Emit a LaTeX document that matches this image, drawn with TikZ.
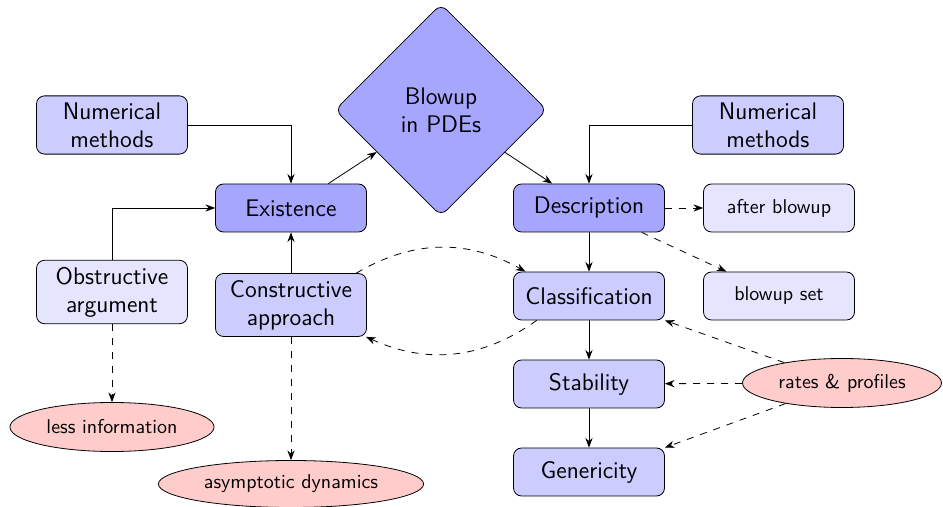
\documentclass[tikz,border=0pt]{standalone}
\usetikzlibrary{arrows.meta, shapes.geometric}

\begin{document}
\begin{tikzpicture}[
    x=0.5pt, y=-0.5pt,
    >=Stealth,
    font=\sffamily,
    box/.style={rectangle, draw, rounded corners, minimum width=75.5pt, minimum height=24pt, align=center, font=\sffamily\large},
    mainbox/.style={box, fill=blue!35},
    subbox/.style={box, fill=blue!20},
    notebox/.style={box, fill=blue!10},
    smallbox/.style={notebox, font=\sffamily},
    result/.style={ellipse, draw, fill=red!20, minimum height=24.5pt, font=\sffamily},
    hint/.style={->, dash pattern=on 3.5pt off 3.5pt}
  ]
    \useasboundingbox (0,0) rectangle (943,507);

    \node[diamond, draw, fill=blue!35, rounded corners, minimum size=106pt, align=center, font=\sffamily\large] (blowup) at (441,110) {Blowup\\in PDEs};

    % left branch
    \node[subbox] (numleft) at (112,125) {Numerical\\methods};
    \node[mainbox] (existence) at (291,208) {Existence};
    \node[notebox] (obstructive) at (112,292) {Obstructive\\argument};
    \node[subbox] (constructive) at (291,305) {Constructive\\approach};
    \node[result] (lessinfo) at (112,427) {less information};
    \node[result, minimum height=23.5pt] (asymptotic) at (291,484) {asymptotic dynamics};

    % right branch
    \node[subbox] (numright) at (768,125) {Numerical\\methods};
    \node[mainbox] (description) at (589,208) {Description};
    \node[smallbox] (after) at (779,208) {after blowup};
    \node[subbox] (classification) at (589,296) {Classification};
    \node[smallbox] (blowupset) at (779,296) {blowup set};
    \node[subbox] (stability) at (589,384) {Stability};
    \node[subbox] (genericity) at (589,472) {Genericity};
    \node[result] (rates) at (842,383) {rates \& profiles};

    \draw[->] (numleft) -| (existence);
    \draw[->] (obstructive) |- (existence);
    \draw[->] (constructive) -- (existence);
    \draw[->] (existence) -- (blowup);
    \draw[->] (blowup) -- (description);
    \draw[->] (numright) -| (description);
    \draw[->] (description) -- (classification);
    \draw[->] (classification) -- (stability);
    \draw[->] (stability) -- (genericity);

    \draw[hint] (obstructive) -- (lessinfo);
    \draw[hint] (constructive) -- (asymptotic);
    \draw[hint] (description) -- (after);
    \draw[hint] (description) -- (blowupset);
    % the two curved links between the constructive box and the classification
    \draw[hint] (constructive.26) to[bend left=30] (classification.159);
    \draw[hint] (classification.205) to[bend left=30] (constructive.-23);
    \draw[hint] (rates) -- (classification.south east);
    \draw[hint] (rates) -- (stability);
    \draw[hint] (rates) -- (genericity.north east);
  \end{tikzpicture}
\end{document}
